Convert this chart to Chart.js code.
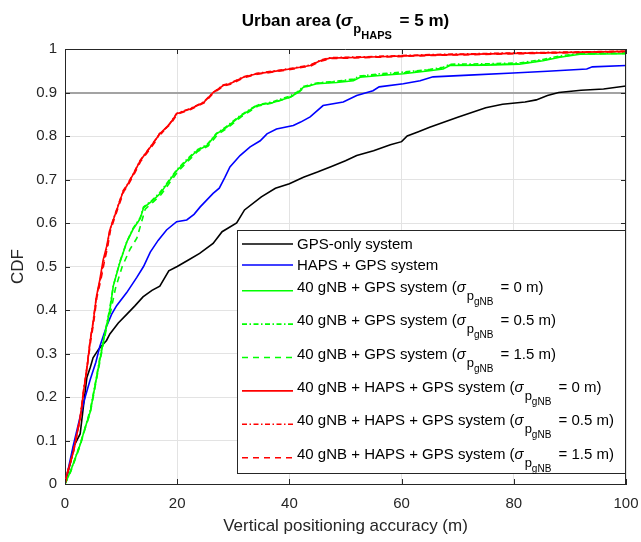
<!DOCTYPE html>
<html>
<head>
<meta charset="utf-8">
<script src="https://cdn.jsdelivr.net/npm/chart.js@4.4.1/dist/chart.umd.min.js"></script>
<style>
  html, body { margin: 0; padding: 0; background: #fff; }
</style>
</head>
<body>
<canvas id="graficoCDF" width="641" height="542"></canvas>
<script>
// puntos: [precision vertical (m), CDF]
var gpsOnly = [[0,0],[1,0.05],[1.5,0.085],[2.7,0.115],[3.3,0.18],[3.9,0.245],[4.5,0.268],[5,0.29],[6,0.31],[7.4,0.33],[8,0.345],[9.5,0.37],[11,0.39],[12.5,0.41],[13.9,0.43],[15.5,0.445],[16.9,0.455],[18.5,0.49],[20,0.5],[22,0.515],[24,0.53],[26.4,0.553],[28,0.58],[30.6,0.6],[32,0.63],[35,0.66],[37.5,0.68],[40,0.69],[42.5,0.705],[45,0.717],[47.5,0.73],[50,0.743],[52,0.755],[55,0.766],[58,0.78],[60,0.787],[61,0.8],[63,0.81],[65,0.82],[70,0.843],[75,0.865],[78,0.873],[82,0.878],[84,0.883],[86,0.893],[88,0.9],[92,0.905],[96,0.908],[100,0.915]];
var hapsGps = [[0,0],[1.5,0.09],[2.7,0.155],[3.6,0.2],[4.5,0.24],[5.5,0.28],[6.2,0.316],[7.4,0.362],[8.3,0.39],[9.2,0.41],[11,0.44],[12.8,0.475],[14,0.5],[15.2,0.533],[16.6,0.56],[18.1,0.584],[19.9,0.603],[21.7,0.607],[23,0.62],[24.1,0.637],[26.4,0.668],[27.5,0.68],[28.5,0.705],[29.4,0.729],[31.2,0.755],[33,0.775],[34.8,0.789],[36,0.805],[37.7,0.816],[40.7,0.824],[42,0.832],[43.7,0.844],[46,0.87],[49.6,0.878],[52,0.893],[54.9,0.904],[56,0.913],[60.3,0.92],[63.3,0.927],[65.6,0.936],[72,0.94],[79.9,0.945],[86,0.949],[93,0.954],[94,0.959],[100,0.962]];
var gnbGps0 = [[0,0],[1,0.03],[2.7,0.09],[3.6,0.13],[4.5,0.166],[5.6,0.243],[6.2,0.285],[6.8,0.325],[7.5,0.37],[8,0.4],[8.6,0.455],[9.8,0.51],[11,0.556],[12.1,0.585],[13.4,0.61],[14,0.635],[15.5,0.65],[16.9,0.667],[18.2,0.69],[19.9,0.72],[21.7,0.743],[23.5,0.766],[25.3,0.778],[27,0.805],[28.8,0.82],[31.2,0.845],[34.2,0.87],[37.1,0.877],[40.1,0.889],[41.5,0.9],[42.5,0.912],[44.9,0.92],[48.4,0.923],[51.4,0.927],[52.6,0.935],[56.1,0.939],[60.3,0.943],[65,0.95],[67.4,0.954],[68.6,0.962],[75,0.963],[81,0.965],[85.2,0.973],[88.2,0.981],[91.8,0.988],[100,0.989]];
var gnbGps05 = [[0,0],[1,0.03],[2.7,0.092],[3.6,0.13],[4.5,0.17],[5.6,0.245],[6.2,0.29],[6.8,0.328],[7.5,0.372],[8,0.405],[8.6,0.455],[9.8,0.512],[11,0.556],[12.1,0.587],[13.4,0.612],[14,0.637],[15.5,0.652],[16.9,0.67],[18.2,0.692],[19.9,0.722],[21.7,0.746],[23.5,0.768],[25.3,0.78],[27,0.806],[28.8,0.822],[31.2,0.847],[34.2,0.871],[37.1,0.879],[40.1,0.892],[41.5,0.902],[42.5,0.914],[44.9,0.922],[48.4,0.926],[51.4,0.931],[52.6,0.938],[56.1,0.943],[60.3,0.947],[65,0.953],[67.4,0.958],[68.6,0.965],[75,0.966],[81,0.968],[85.2,0.976],[88.2,0.984],[91.8,0.99],[100,0.991]];
var gnbGps15 = [[0,0],[1,0.028],[2.7,0.088],[3.6,0.128],[4.5,0.163],[5.6,0.24],[6.2,0.28],[6.8,0.32],[7.5,0.365],[8.2,0.4],[9,0.45],[10.2,0.5],[11.6,0.54],[12.8,0.565],[13.6,0.6],[14.3,0.632],[15.7,0.648],[17.1,0.665],[18.4,0.688],[20.1,0.718],[21.9,0.742],[23.7,0.765],[25.5,0.777],[27.2,0.803],[29,0.819],[31.4,0.844],[34.4,0.869],[37.3,0.877],[40.3,0.89],[41.7,0.901],[42.7,0.912],[45,0.921],[48.5,0.925],[51.4,0.929],[52.6,0.937],[56.1,0.941],[60.3,0.945],[65,0.952],[67.4,0.956],[68.6,0.963],[75,0.964],[81,0.966],[85.2,0.974],[88.2,0.982],[91.8,0.989],[100,0.99]];
var gnbHaps0 = [[0,0],[0.3,0.02],[1.5,0.074],[2.7,0.151],[3.3,0.212],[3.9,0.266],[4.5,0.33],[5,0.37],[5.6,0.43],[6.2,0.469],[6.8,0.515],[7.4,0.545],[8,0.584],[8.6,0.607],[9.5,0.64],[10.4,0.674],[11,0.685],[12.2,0.713],[13.4,0.743],[15.2,0.774],[16.9,0.805],[18.7,0.828],[19.9,0.851],[22.3,0.862],[24.7,0.877],[26.4,0.9],[28.2,0.916],[29.4,0.92],[31.8,0.935],[34.2,0.943],[37,0.948],[40.1,0.954],[43.7,0.962],[45.5,0.973],[47.2,0.979],[53.1,0.981],[65,0.986],[80,0.99],[100,0.9946]];
var gnbHaps05 = [[0,0],[0.3,0.02],[1.5,0.076],[2.7,0.153],[3.3,0.215],[3.9,0.268],[4.5,0.332],[5,0.372],[5.6,0.432],[6.3,0.47],[6.9,0.512],[7.5,0.545],[8,0.585],[8.6,0.608],[9.5,0.642],[10.4,0.675],[11,0.686],[12.2,0.714],[13.4,0.744],[15.2,0.775],[16.6,0.8],[17.2,0.806],[18.7,0.829],[19.9,0.852],[22.3,0.863],[24.7,0.878],[26.4,0.9],[28.2,0.917],[29.4,0.921],[31.8,0.936],[34.2,0.944],[37,0.949],[40.1,0.955],[43.7,0.963],[45.5,0.974],[47.2,0.98],[53.1,0.982],[65,0.987],[80,0.991],[100,0.995]];
var gnbHaps15 = [[0,0],[0.3,0.02],[1.5,0.073],[2.7,0.15],[3.3,0.21],[3.9,0.264],[4.6,0.33],[5.1,0.37],[5.7,0.43],[6.4,0.47],[7,0.51],[7.6,0.545],[8.1,0.583],[8.7,0.606],[9.6,0.64],[10.5,0.673],[11.1,0.684],[12.3,0.712],[13.5,0.742],[15.3,0.773],[16.3,0.79],[16.8,0.805],[18.8,0.827],[20,0.85],[22.4,0.861],[24.8,0.876],[26.5,0.899],[28.3,0.915],[29.5,0.919],[31.9,0.934],[34.3,0.942],[37.1,0.947],[40.2,0.953],[43.8,0.961],[45.6,0.972],[47.3,0.978],[53.2,0.98],[65,0.985],[80,0.989],[100,0.994]];

var xTicks = [0, 20, 40, 60, 80, 100];
var yTicks = [0, 0.1, 0.2, 0.3, 0.4, 0.5, 0.6, 0.7, 0.8, 0.9, 1];
var lineaRef = 0.9;

var series = [gpsOnly, hapsGps, gnbGps0, gnbGps05, gnbGps15, gnbHaps0, gnbHaps05, gnbHaps15];
var nombres = ['GPS-only system', 'HAPS + GPS system',
    '40 gNB + GPS system', '40 gNB + GPS system', '40 gNB + GPS system',
    '40 gNB + HAPS + GPS system', '40 gNB + HAPS + GPS system', '40 gNB + HAPS + GPS system'];
var sigmas = [null, null, '0', '0.5', '1.5', '0', '0.5', '1.5'];
var colores = ['#000000', '#0000ff', '#00ff00', '#00ff00', '#00ff00', '#ff0000', '#ff0000', '#ff0000'];
var trazos = [[], [], [], [5, 2.5, 1.5, 2.5], [6, 5], [], [5, 2.5, 1.5, 2.5], [6, 5]];

var FUENTE = '"Liberation Sans", Arial, Helvetica, sans-serif';
var GRIS = '#262626';

function textoRico(ctx, x, y, partes, medir) {
    var x0 = x;
    partes.forEach(function (p) {
        ctx.font = (p.estilo || '') + ' ' + p.size + 'px ' + FUENTE;
        if (!medir) ctx.fillText(p.t, x, y + (p.dy || 0));
        x += ctx.measureText(p.t).width + (p.extra || 0);
    });
    return x - x0;
}

var marcoMatlab = {
    id: 'marcoMatlab',
    afterDraw: function (chart) {
        var ctx = chart.ctx;
        var a = chart.chartArea;
        var sx = chart.scales.x, sy = chart.scales.y;
        ctx.save();

        // caja y ticks hacia dentro
        ctx.strokeStyle = GRIS;
        ctx.lineWidth = 1;
        ctx.beginPath();
        ctx.moveTo(a.left, a.top + 0.5); ctx.lineTo(a.right, a.top + 0.5);
        ctx.moveTo(a.right - 0.5, a.top); ctx.lineTo(a.right - 0.5, a.bottom);
        xTicks.forEach(function (v) {
            var px = Math.round(sx.getPixelForValue(v)) + 0.5;
            ctx.moveTo(px, a.bottom); ctx.lineTo(px, a.bottom - 5);
            ctx.moveTo(px, a.top); ctx.lineTo(px, a.top + 5);
        });
        yTicks.forEach(function (v) {
            var py = Math.round(sy.getPixelForValue(v)) + 0.5;
            ctx.moveTo(a.left, py); ctx.lineTo(a.left + 5, py);
            ctx.moveTo(a.right, py); ctx.lineTo(a.right - 5, py);
        });
        ctx.stroke();

        // leyenda
        var lx = 237, ly = 230, lw = a.right - lx, lh = 244;
        ctx.fillStyle = '#fff';
        ctx.fillRect(lx, ly, lw, lh);
        ctx.strokeStyle = GRIS;
        ctx.strokeRect(lx + 0.5, ly + 0.5, lw - 1, lh - 1);
        var base = 249;
        ctx.textBaseline = 'alphabetic';
        ctx.textAlign = 'left';
        for (var i = 0; i < series.length; i++) {
            var yLinea = sigmas[i] === null ? base - 5 : base - 1;
            ctx.beginPath();
            ctx.setLineDash(trazos[i]);
            ctx.strokeStyle = colores[i];
            ctx.lineWidth = 1.6;
            ctx.moveTo(242, yLinea); ctx.lineTo(293, yLinea);
            ctx.stroke();
            ctx.setLineDash([]);
            ctx.fillStyle = '#000';
            var partes = [{ t: nombres[i], size: 15 }];
            if (sigmas[i] !== null) {
                partes = [
                    { t: nombres[i] + ' (', size: 15 },
                    { t: '\u03c3', size: 15, estilo: 'italic', extra: 1 },
                    { t: 'p', size: 13, dy: 8 },
                    { t: 'gNB', size: 10, dy: 13, extra: 3 },
                    { t: ' = ' + sigmas[i] + ' m)', size: 15 }
                ];
            }
            textoRico(ctx, 297, base, partes);
            base += (i < 1 ? 21 : (i < 2 ? 21.7 : 33.4));
        }

        // titulo
        var tit = [
            { t: 'Urban area (', size: 17, estilo: 'bold' },
            { t: '\u03c3', size: 17, estilo: 'italic bold', extra: 1 },
            { t: 'p', size: 13, estilo: 'bold', dy: 7 },
            { t: 'HAPS', size: 11, estilo: 'bold', dy: 13, extra: 3 },
            { t: ' = 5 m)', size: 17, estilo: 'bold' }
        ];
        ctx.fillStyle = '#000';
        var ancho = textoRico(ctx, 0, 0, tit, true);
        textoRico(ctx, (a.left + a.right) / 2 - ancho / 2, 26, tit);
        ctx.restore();
    }
};

var ctx = document.getElementById('graficoCDF').getContext('2d');
var chart = new Chart(ctx, {
    type: 'line',
    data: {
        datasets: series.map(function (s, i) {
            return {
                label: nombres[i] + (sigmas[i] ? ' (' + sigmas[i] + ' m)' : ''),
                data: s.map(function (p) { return { x: p[0], y: p[1] }; }),
                borderColor: colores[i],
                borderDash: trazos[i],
                borderWidth: 1.6,
                pointRadius: 0,
                tension: 0,
                fill: false,
                order: series.length - i
            };
        })
    },
    options: {
        responsive: false,
        animation: false,
        layout: { padding: { left: 0, right: 15, top: 49, bottom: 0 } },
        plugins: { legend: { display: false }, tooltip: { enabled: false } },
        scales: {
            x: {
                type: 'linear', min: 0, max: 100,
                afterFit: function (scale) { scale.height = 58; scale.paddingRight = 0; scale.paddingLeft = 0; },
                afterBuildTicks: function (scale) { scale.ticks = xTicks.map(function (v) { return { value: v }; }); },
                ticks: { color: GRIS, font: { family: FUENTE, size: 15 }, padding: 11, maxRotation: 0 },
                grid: { color: '#e3e3e3', drawTicks: false },
                border: { display: true, color: GRIS },
                title: { display: true, text: 'Vertical positioning accuracy (m)', color: GRIS,
                    font: { family: FUENTE, size: 17 }, padding: { top: 0, bottom: 5 } }
            },
            y: {
                type: 'linear', min: 0, max: 1,
                afterFit: function (scale) { scale.width = 65; scale.paddingTop = 0; scale.paddingBottom = 0; },
                afterBuildTicks: function (scale) { scale.ticks = yTicks.map(function (v) { return { value: v }; }); },
                ticks: { color: GRIS, font: { family: FUENTE, size: 15 }, padding: 8,
                    callback: function (v) { return String(Math.round(v * 10) / 10); } },
                grid: {
                    drawTicks: false,
                    color: function (c) { return Math.abs(c.tick.value - lineaRef) < 1e-6 ? '#a3a3a3' : '#e3e3e3'; },
                    lineWidth: function (c) { return Math.abs(c.tick.value - lineaRef) < 1e-6 ? 2 : 1; }
                },
                border: { display: true, color: GRIS },
                title: { display: true, text: 'CDF', color: GRIS,
                    font: { family: FUENTE, size: 17 }, padding: { top: 8, bottom: 0 } }
            }
        }
    },
    plugins: [marcoMatlab]
});
</script>
</body>
</html>
